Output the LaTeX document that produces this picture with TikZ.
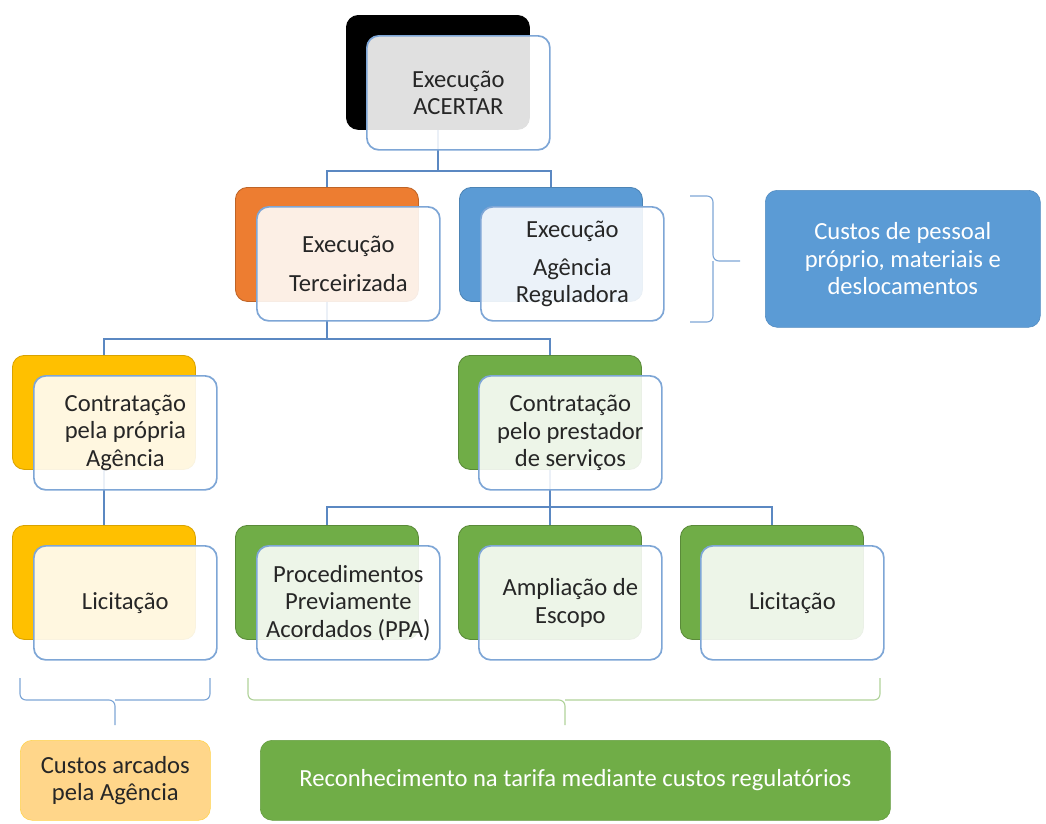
\documentclass[tikz,border=0pt]{standalone}
\usepackage{fontspec}
\setmainfont{Carlito}
\definecolor{acorange}{HTML}{ED7D31}
\definecolor{acblue}{HTML}{5B9BD5}
\definecolor{acgold}{HTML}{FFC000}
\definecolor{acgreen}{HTML}{70AD47}
\definecolor{acline}{HTML}{5B88C2}
\definecolor{acedge}{HTML}{7EA6D6}
\definecolor{acsand}{HTML}{FFD68A}
\begin{document}
\begin{tikzpicture}[x=0.025cm, y=-0.025cm,
      every node/.style={font=\fontsize{17.5}{19.5}\selectfont},
      backbox/.style={draw, line width=0.6pt, rounded corners=0.3cm, minimum width=4.575cm, minimum height=2.85cm, anchor=north west, inner sep=0pt},
      frontbox/.style={draw=acedge, line width=1.2pt, fill=white, fill opacity=0.88, text opacity=1, text=black!85, rounded corners=0.3cm, minimum width=4.575cm, minimum height=2.85cm, anchor=north west, align=center, inner sep=0pt},
      note/.style={rounded corners=0.3cm, anchor=north west, align=center, inner sep=0pt},
      link/.style={draw=acline, line width=1.2pt},
      bracket/.style={line width=0.8pt, rounded corners=0.15cm},
    ]
    \useasboundingbox (0,0) rectangle (1046,823);

    % back boxes
    \node[backbox, fill=black, draw=black] (acb) at (346,15) {};
    \node[backbox, fill=acorange, draw=acorange!80!black] (terb) at (235,187) {};
    \node[backbox, fill=acblue, draw=acblue!85!black] (agrb) at (459,187) {};
    \node[backbox, fill=acgold, draw=acgold!85!black] (cpab) at (12,355) {};
    \node[backbox, fill=acgreen, draw=acgreen!80!black] (cpsb) at (458,355) {};
    \node[backbox, fill=acgold, draw=acgold!85!black] (lab) at (12,525) {};
    \node[backbox, fill=acgreen, draw=acgreen!80!black] (ppab) at (235,525) {};
    \node[backbox, fill=acgreen, draw=acgreen!80!black] (ampb) at (458,525) {};
    \node[backbox, fill=acgreen, draw=acgreen!80!black] (licb) at (680,525) {};

    % connectors
    \draw[link] (acb.south) -- ++(0,41) -| (terb.north);
    \draw[link] (acb.south) -- ++(0,41) -| (agrb.north);
    \draw[link] (terb.south) -- ++(0,37) -| (cpab.north);
    \draw[link] (terb.south) -- ++(0,37) -| (cpsb.north);
    \draw[link] (cpab.south) -- (lab.north);
    \draw[link] (cpsb.south) -- ++(0,37) -| (ppab.north);
    \draw[link] (cpsb.south) -- ++(0,37) -| (ampb.north);
    \draw[link] (cpsb.south) -- ++(0,37) -| (licb.north);

    % front boxes
    \node[frontbox] (ac) at (366,35) {Execução\\ACERTAR};
    \node[frontbox] (ter) at (256,206) {Execução\\[0.27cm]Terceirizada};
    \node[frontbox] (agr) at (480,206) {Execução\\[0.27cm]Agência\\Reguladora};
    \node[frontbox] (cpa) at (33,375) {Contratação\\pela própria\\Agência};
    \node[frontbox] (cps) at (478,375) {Contratação\\pelo prestador\\de serviços};
    \node[frontbox] (la) at (33,545) {Licitação};
    \node[frontbox] (ppa) at (256,545) {Procedimentos\\Previamente\\Acordados (PPA)};
    \node[frontbox] (amp) at (478,545) {Ampliação de\\Escopo};
    \node[frontbox] (lic) at (700,545) {Licitação};

    % braces
    \draw[bracket, draw=acedge] (690,196) -| (713,261) -- (740,261);
    \draw[bracket, draw=acedge] (690,322) -| (713,261);
    \draw[bracket, draw=acedge] (20,678) |- (115,700) -- (115,725);
    \draw[bracket, draw=acedge] (210,678) |- (115,700);
    \draw[bracket, draw=acgreen!55] (248,678) |- (565,700) -- (565,725);
    \draw[bracket, draw=acgreen!55] (880,678) |- (565,700);

    % cost notes
    \node[note, fill=acblue, draw=acblue!90!black, text=white, minimum width=6.875cm, minimum height=3.425cm] (cpm) at (765,190) {Custos de pessoal\\próprio, materiais e\\deslocamentos};
    \node[note, fill=acsand, draw=acgold!70, text=black!85, minimum width=4.75cm, minimum height=2cm] (cag) at (20,740) {Custos arcados\\pela Agência};
    \node[note, fill=acgreen, draw=acgreen!90!black, text=white, minimum width=15.75cm, minimum height=2cm] (rtc) at (260,740) {Reconhecimento na tarifa mediante custos regulatórios};

  \end{tikzpicture}
\end{document}
